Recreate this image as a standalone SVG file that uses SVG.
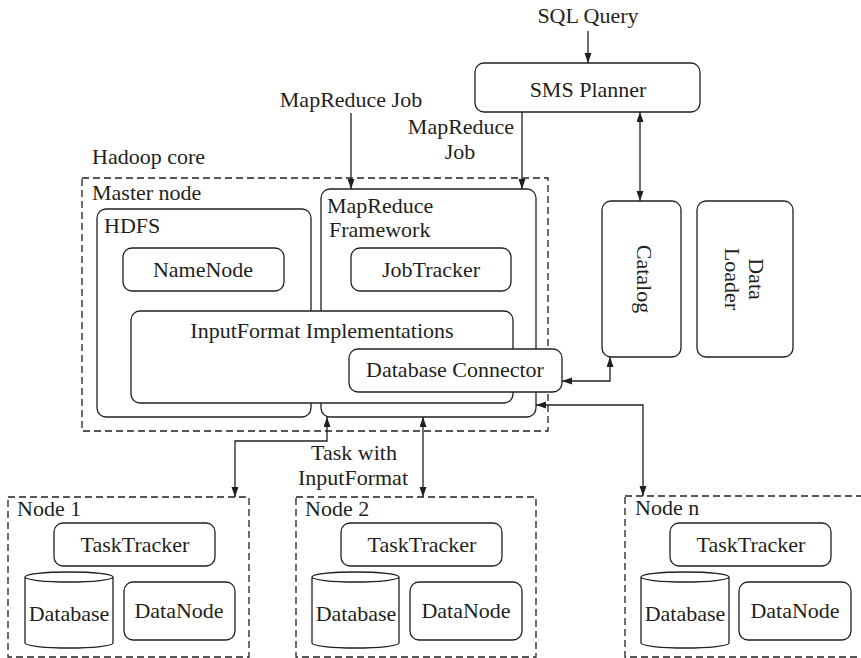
<svg xmlns="http://www.w3.org/2000/svg" width="861" height="658" viewBox="0 0 861 658">
<style>
text{font-family:'Liberation Serif',serif;font-size:22px;fill:#231f20}
.m{text-anchor:middle}
.box{fill:#fff;stroke:#231f20;stroke-width:1.3}
.dash{fill:none;stroke:#231f20;stroke-width:1.3;stroke-dasharray:7 4}
.cn{fill:none;stroke:#231f20;stroke-width:1.3}
.one{marker-end:url(#ah)}
.two{marker-start:url(#ah);marker-end:url(#ah)}
</style>
<defs>
<marker id="ah" markerUnits="userSpaceOnUse" markerWidth="11" markerHeight="8" refX="10" refY="3.5" orient="auto-start-reverse">
<path d="M0,0 L10,3.5 L0,7 z" fill="#231f20"/>
</marker>
</defs>
<rect width="861" height="658" fill="#fff"/>
<g font-family="Liberation Serif" font-size="22" fill="#231f20">
<g id="hadoop-core">
<text x="92" y="164">Hadoop core</text>
<rect class="dash" x="82" y="178" width="466" height="253"/>
<text x="92" y="200">Master node</text>
</g>

<g id="hdfs">
<rect class="box" x="97" y="209" width="214" height="208" rx="9"/>
<text x="104" y="233">HDFS</text>
</g>
<g id="namenode">
<rect class="box" x="123" y="248" width="161" height="43" rx="9"/>
<text class="m" x="203" y="277">NameNode</text>
</g>
<g id="mapreduce-framework">
<rect class="box" x="321" y="189" width="215" height="228" rx="9"/>
<text x="327" y="213">MapReduce</text>
<text x="329" y="237">Framework</text>
</g>
<g id="jobtracker">
<rect class="box" x="351" y="248" width="160" height="43" rx="9"/>
<text class="m" x="431" y="277">JobTracker</text>
</g>
<g id="inputformat">
<rect class="box" x="131" y="311" width="382" height="92" rx="9"/>
<text class="m" x="322" y="338">InputFormat Implementations</text>
</g>
<g id="db-connector">
<rect class="box" x="349" y="349" width="213" height="43" rx="9"/>
<text class="m" x="455" y="377">Database Connector</text>
</g>

<g id="sql-query">
<text class="m" x="588" y="23">SQL Query</text>
</g>
<g id="sms-planner">
<rect class="box" x="475" y="63" width="225" height="49" rx="9"/>
<text class="m" x="588" y="97">SMS Planner</text>
</g>
<g id="mr-job-label">
<text class="m" x="351" y="107">MapReduce Job</text>
<text class="m" x="461" y="134">MapReduce</text>
<text class="m" x="460" y="159">Job</text>
</g>
<g id="catalog">
<rect class="box" x="602" y="201" width="79" height="156" rx="9"/>
<text class="m" transform="translate(637,279) rotate(90)">Catalog</text>
</g>
<g id="data-loader">
<rect class="box" x="697" y="201" width="96" height="156" rx="9"/>
<text class="m" transform="translate(749,279) rotate(90)">Data</text>
<text class="m" transform="translate(725,279) rotate(90)">Loader</text>
</g>

<g id="node1">
<rect class="dash" x="8" y="497" width="241" height="160"/>
<text x="17" y="516">Node 1</text>
<rect class="box" x="54" y="523" width="161" height="43" rx="9"/>
<text class="m" x="135" y="552">TaskTracker</text>
<path class="box" d="M25,577 V643 A44,5 0 0 0 113,643 V577 A44,5 0 0 0 25,577 A44,5 0 0 0 113,577"/>
<text class="m" x="69" y="621">Database</text>
<rect class="box" x="124" y="582" width="111" height="58" rx="9"/>
<text class="m" x="179" y="618">DataNode</text>
</g>
<g id="node2">
<rect class="dash" x="296" y="497" width="240" height="160"/>
<text x="305" y="516">Node 2</text>
<rect class="box" x="341" y="523" width="161" height="43" rx="9"/>
<text class="m" x="422" y="552">TaskTracker</text>
<path class="box" d="M312,577 V643 A43.5,5 0 0 0 399,643 V577 A43.5,5 0 0 0 312,577 A43.5,5 0 0 0 399,577"/>
<text class="m" x="356" y="621">Database</text>
<rect class="box" x="410" y="582" width="112" height="58" rx="9"/>
<text class="m" x="466" y="618">DataNode</text>
</g>
<g id="noden">
<rect class="dash" x="625" y="496" width="250" height="161"/>
<text x="635" y="515">Node n</text>
<rect class="box" x="670" y="523" width="161" height="43" rx="9"/>
<text class="m" x="751" y="552">TaskTracker</text>
<path class="box" d="M641,577 V643 A44,5 0 0 0 729,643 V577 A44,5 0 0 0 641,577 A44,5 0 0 0 729,577"/>
<text class="m" x="685" y="621">Database</text>
<rect class="box" x="739" y="582" width="112" height="58" rx="9"/>
<text class="m" x="795" y="618">DataNode</text>
</g>

<g id="task-label">
<text class="m" x="354" y="460">Task with</text>
<text class="m" x="353" y="485">InputFormat</text>
</g>
</g>
<g id="connectors">
<path class="cn one" d="M588,31 V63"/>
<path class="cn one" d="M351,113 V189"/>
<path class="cn one" d="M522,112 V189"/>
<path class="cn two" d="M640,112 V201"/>
<path class="cn two" d="M610,357 V381 H562"/>
<path class="cn two" d="M235,497 V441 H327 V417"/>
<path class="cn two" d="M423,497 V417"/>
<path class="cn two" d="M643,496 V405 H536"/>
</g>
</svg>
